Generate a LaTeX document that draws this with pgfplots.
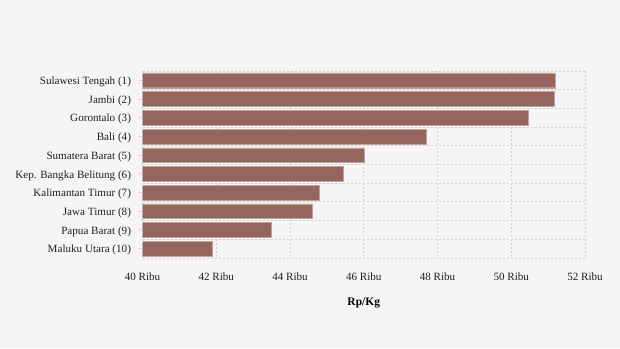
\documentclass[border=0pt]{standalone}
\usepackage{pgfplots}
\pgfplotsset{compat=1.18}
\usepackage{fontspec}
\setmainfont{Liberation Serif}
\definecolor{bg}{HTML}{F5F5F5}
\definecolor{barc}{HTML}{96655E}
\definecolor{gridc}{HTML}{D3D3D3}
\begin{document}
\begin{tikzpicture}[x=1pt,y=1pt]
\fill[bg] (0,0) rectangle (620,348);
\begin{axis}[
  at={(142.5pt,90pt)}, anchor=south west,
  scale only axis, width=442.5pt, height=187pt,
  xbar, bar width=0.79,
  xmin=40, xmax=52,
  ymin=-0.5, ymax=9.5, y dir=reverse,
  xtick={40,42,...,52},
  xticklabels={40 Ribu,42 Ribu,44 Ribu,46 Ribu,48 Ribu,50 Ribu,52 Ribu},
  ytick={0,...,9},
  yticklabels={Sulawesi Tengah (1),Jambi (2),Gorontalo (3),Bali (4),Sumatera Barat (5),Kep. Bangka Belitung (6),Kalimantan Timur (7),Jawa Timur (8),Papua Barat (9),Maluku Utara (10)},
  minor ytick={-0.5,0.5,...,9.5},
  ytick pos=left,
  xmajorgrids, yminorgrids,
  major grid style={gridc, dash pattern=on 2pt off 2pt, line width=1pt},
  minor grid style={gridc, dash pattern=on 2pt off 2pt, line width=1pt},
  axis line style={draw=none},
  x tick style={draw=none},
  y tick style={gridc, line width=1pt},
  minor y tick style={draw=none},
  tick align=outside, major tick length=4pt,
  ticklabel style={font=\fontsize{11.1}{13}\selectfont, text=black!88},
  xticklabel style={yshift=-7.5pt},
  yticklabel style={xshift=-4pt, yshift=-1.5pt},
  xlabel={\textbf{Rp/Kg}},
  xlabel style={font=\fontsize{11.5}{13}\selectfont, yshift=-10pt},
  clip=true,
]
\addplot[fill=barc, draw=barc!60!white, line width=0.4pt] coordinates {
(51.19,0) (51.16,1) (50.45,2) (47.69,3) (46.01,4) (45.44,5) (44.79,6) (44.60,7) (43.48,8) (41.88,9)
};
\end{axis}
\end{tikzpicture}
\end{document}
